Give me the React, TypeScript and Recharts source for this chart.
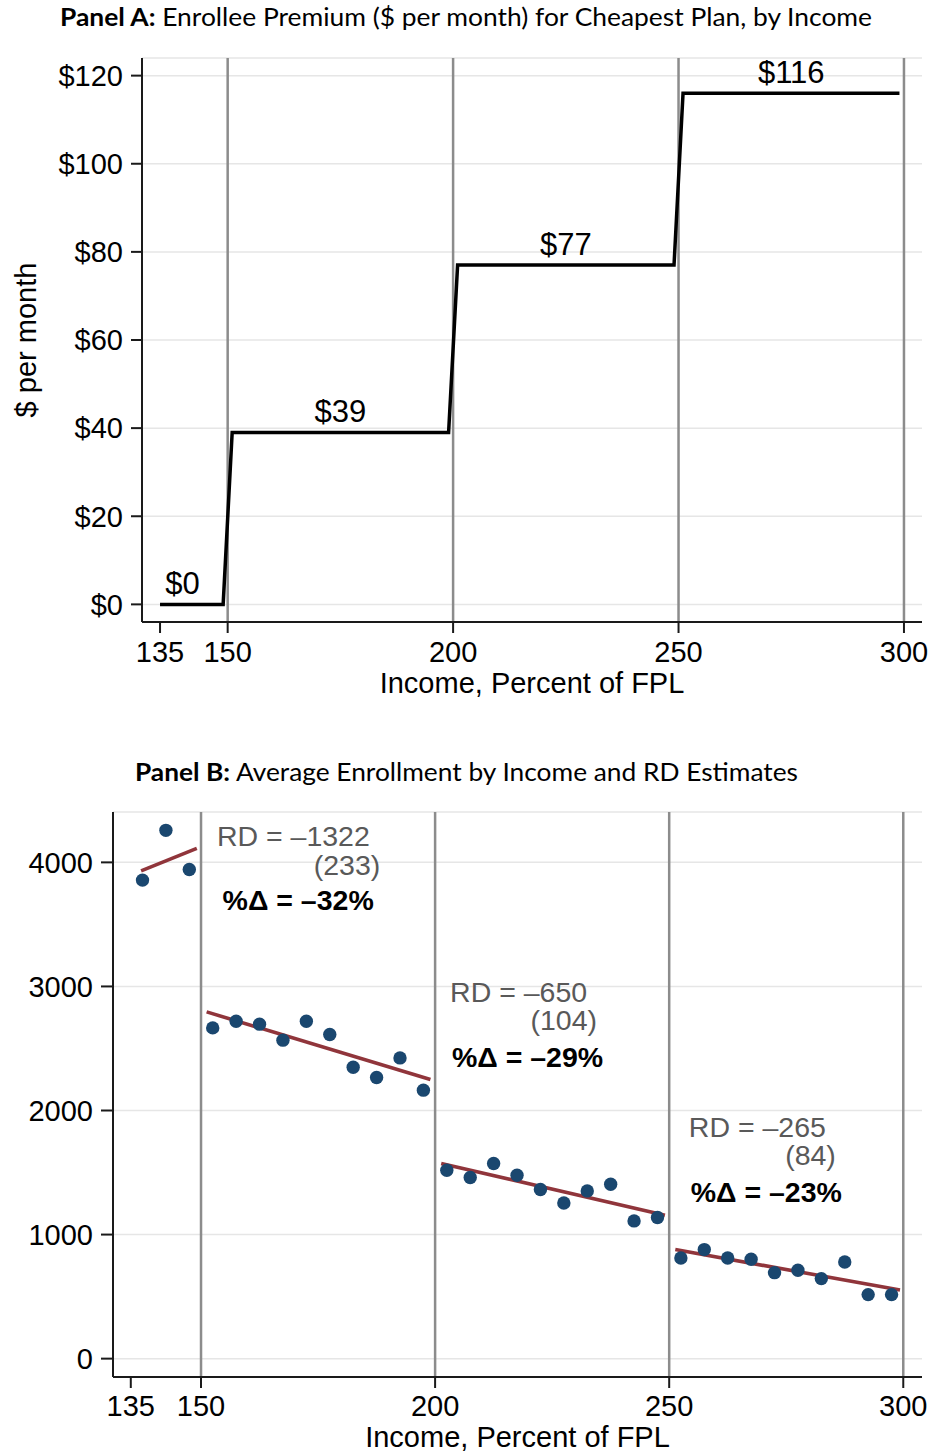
import React from 'react';
import {
  ComposedChart,
  Line,
  Scatter,
  XAxis,
  YAxis,
  CartesianGrid,
  ReferenceLine,
  Label,
} from 'recharts';

// ---------- shared ----------
const incomeTicks = [135, 150, 200, 250, 300];
const cutoffs = [150, 200, 250, 300];

// ---------- Panel A data ----------
const premiumIncome = [135, 149, 151, 199, 201, 249, 251, 299];
const premiumValue = [0, 0, 39, 39, 77, 77, 116, 116];
const premiumTicks = [0, 20, 40, 60, 80, 100, 120];
const premiumLabelText = ['$0', '$39', '$77', '$116'];
const premiumLabelIncome = [140, 175, 225, 275];
const premiumLabelLevel = [0, 39, 77, 116];

// ---------- Panel B data ----------
const binIncome = [
  137.5, 142.5, 147.5, 152.5, 157.5, 162.5, 167.5, 172.5, 177.5, 182.5, 187.5,
  192.5, 197.5, 202.5, 207.5, 212.5, 217.5, 222.5, 227.5, 232.5, 237.5, 242.5,
  247.5, 252.5, 257.5, 262.5, 267.5, 272.5, 277.5, 282.5, 287.5, 292.5, 297.5,
];
const enrollment = [
  3857, 4258, 3943, 2666, 2720, 2696, 2567, 2720, 2613, 2349, 2266,
  2424, 2164, 1519, 1460, 1573, 1478, 1363, 1255, 1352, 1406, 1110,
  1137, 811, 879, 811, 801, 693, 712, 645, 779, 516, 516,
];
const enrollTicks = [0, 1000, 2000, 3000, 4000];
const fitStartIncome = [137.2, 151.2, 201.3, 251.3];
const fitStartValue = [3931, 2795, 1573, 879];
const fitEndIncome = [149.1, 199.0, 249.1, 299.3];
const fitEndValue = [4113, 2250, 1156, 553];
const rdEstimate = ['RD = –1322', 'RD = –650', 'RD = –265'];
const rdSE = ['(233)', '(104)', '(84)'];
const rdPct = ['%Δ = –32%', '%Δ = –29%', '%Δ = –23%'];
// annotation anchors (data units)
const rdTextIncome = [153.4, 203.2, 254.2];
const rdTextLevel = [4212, 2956, 1868];
const seTextIncome = [188.3, 234.6, 285.6];
const seTextLevel = [3980, 2730, 1640];
const pctTextIncome = [154.6, 203.6, 254.6];
const pctTextLevel = [3696, 2432, 1344];

// ---------- derived tables ----------
const premiumData = premiumIncome.map((x, i) => ({ x, y: premiumValue[i] }));
const premiumLabels = premiumLabelText.map((t, i) => ({
  x: premiumLabelIncome[i],
  y: premiumLabelLevel[i],
  label: t,
}));
const enrollData = binIncome.map((x, i) => ({ x, y: enrollment[i] }));
const fitSegments = fitStartIncome.map((x, i) => [
  { x, y: fitStartValue[i] },
  { x: fitEndIncome[i], y: fitEndValue[i] },
]);
const rdData = rdEstimate.map((t, i) => ({ x: rdTextIncome[i], y: rdTextLevel[i], label: t }));
const seData = rdSE.map((t, i) => ({ x: seTextIncome[i], y: seTextLevel[i], label: t }));
const pctData = rdPct.map((t, i) => ({ x: pctTextIncome[i], y: pctTextLevel[i], label: t }));

const FONT = '"Liberation Sans", Arial, Helvetica, sans-serif';
const AXIS_COLOR = '#1a1a1a';
const CUT_COLOR = '#8c8c8c';
const GRID_COLOR = '#e6e6e6';
const DOT_COLOR = '#1a476f';
const FIT_COLOR = '#90353b';

const tickStyle = { fill: '#000', fontSize: 29, fontFamily: FONT };

const XTitle = (dy: number) => (props: any) => {
  const vb = props.viewBox || {};
  return (
    <text
      x={vb.x + vb.width / 2}
      y={vb.y + dy}
      textAnchor="middle"
      dominantBaseline="central"
      fontSize={29}
      fontFamily={FONT}
      fill="#000"
    >
      Income, Percent of FPL
    </text>
  );
};

const YTitleA = (props: any) => {
  const vb = props.viewBox || {};
  const cx = vb.x - 16;
  const cy = vb.y + vb.height / 2;
  return (
    <text
      x={cx}
      y={cy}
      transform={`rotate(-90 ${cx} ${cy})`}
      textAnchor="middle"
      dominantBaseline="central"
      fontSize={29}
      fontFamily={FONT}
      fill="#000"
    >
      $ per month
    </text>
  );
};

const textShape =
  (opts: { dy: number; size: number; anchor: string; weight?: string; color: string }) =>
  (p: any) => (
    <text
      x={p.cx}
      y={p.cy + opts.dy}
      textAnchor={opts.anchor as any}
      dominantBaseline="central"
      fontSize={opts.size}
      fontWeight={opts.weight || 'normal'}
      fontFamily={FONT}
      fill={opts.color}
    >
      {p.payload.label}
    </text>
  );

const dotShape = (p: any) => <circle cx={p.cx} cy={p.cy} r={6.7} fill={DOT_COLOR} />;

const PanelA = () => (
  <ComposedChart
    width={931}
    height={720}
    margin={{ top: 58, right: 9, bottom: 18, left: 42 }}
  >
    <CartesianGrid vertical={false} stroke={GRID_COLOR} strokeWidth={1.5} />
    <XAxis
      type="number"
      dataKey="x"
      domain={[131, 304]}
      ticks={incomeTicks}
      interval={0}
      allowDataOverflow
      height={80}
      tickSize={11}
      tickMargin={8}
      tick={tickStyle}
      axisLine={{ stroke: AXIS_COLOR, strokeWidth: 2 }}
      tickLine={{ stroke: AXIS_COLOR, strokeWidth: 2 }}
    >
      <Label content={XTitle(61)} />
    </XAxis>
    <YAxis
      type="number"
      dataKey="y"
      domain={[-4, 124]}
      ticks={premiumTicks}
      interval={0}
      allowDataOverflow
      width={100}
      tickSize={11}
      tickMargin={8}
      tick={tickStyle}
      tickFormatter={(v: number) => `$${v}`}
      axisLine={{ stroke: AXIS_COLOR, strokeWidth: 2 }}
      tickLine={{ stroke: AXIS_COLOR, strokeWidth: 2 }}
    >
      <Label content={YTitleA} />
    </YAxis>
    {cutoffs.map((c) => (
      <ReferenceLine key={c} x={c} stroke={CUT_COLOR} strokeWidth={2.5} />
    ))}
    <Line
      data={premiumData}
      dataKey="y"
      type="linear"
      stroke="#000"
      strokeWidth={3.5}
      dot={false}
      activeDot={false}
      isAnimationActive={false}
    />
    <Scatter
      data={premiumLabels}
      dataKey="y"
      isAnimationActive={false}
      shape={textShape({ dy: -21, size: 31, anchor: 'middle', color: '#000' })}
    />
  </ComposedChart>
);

const PanelB = () => (
  <ComposedChart
    width={931}
    height={734}
    margin={{ top: 92, right: 9, bottom: 7, left: 13 }}
  >
    <CartesianGrid vertical={false} stroke={GRID_COLOR} strokeWidth={1.5} />
    <XAxis
      type="number"
      dataKey="x"
      domain={[131.2, 304]}
      ticks={incomeTicks}
      interval={0}
      allowDataOverflow
      height={70}
      tickSize={11}
      tickMargin={7}
      tick={tickStyle}
      axisLine={{ stroke: AXIS_COLOR, strokeWidth: 2 }}
      tickLine={{ stroke: AXIS_COLOR, strokeWidth: 2 }}
    >
      <Label content={XTitle(60)} />
    </XAxis>
    <YAxis
      type="number"
      dataKey="y"
      domain={[-148, 4406]}
      ticks={enrollTicks}
      interval={0}
      allowDataOverflow
      width={100}
      tickSize={12}
      tickMargin={8}
      tick={tickStyle}
      axisLine={{ stroke: AXIS_COLOR, strokeWidth: 2 }}
      tickLine={{ stroke: AXIS_COLOR, strokeWidth: 2 }}
    />
    {cutoffs.map((c) => (
      <ReferenceLine key={c} x={c} stroke={CUT_COLOR} strokeWidth={2.5} />
    ))}
    <Scatter data={enrollData} dataKey="y" isAnimationActive={false} shape={dotShape} />
    {fitSegments.map((seg, i) => (
      <Line
        key={i}
        data={seg}
        dataKey="y"
        type="linear"
        stroke={FIT_COLOR}
        strokeWidth={3.6}
        dot={false}
        activeDot={false}
        isAnimationActive={false}
      />
    ))}
    <Scatter
      data={rdData}
      dataKey="y"
      isAnimationActive={false}
      shape={textShape({ dy: 0, size: 28.5, anchor: 'start', color: '#595959' })}
    />
    <Scatter
      data={seData}
      dataKey="y"
      isAnimationActive={false}
      shape={textShape({ dy: 0, size: 28.5, anchor: 'end', color: '#595959' })}
    />
    <Scatter
      data={pctData}
      dataKey="y"
      isAnimationActive={false}
      shape={textShape({ dy: 0, size: 28.5, anchor: 'start', weight: 'bold', color: '#000' })}
    />
  </ComposedChart>
);

const TITLE_FONT = 'Lato, "Open Sans", sans-serif';

export default function App() {
  return (
    <div
      style={{
        position: 'absolute',
        left: 0,
        top: 0,
        width: 931,
        height: 1454,
        background: '#fff',
        overflow: 'hidden',
      }}
    >
      <div style={{ position: 'absolute', left: 0, top: 0 }}>
        <PanelA />
      </div>
      <div style={{ position: 'absolute', left: 0, top: 720 }}>
        <PanelB />
      </div>
      <svg
        width={931}
        height={1454}
        style={{ position: 'absolute', left: 0, top: 0, pointerEvents: 'none' }}
      >
        <text
          x={60}
          y={26}
          fontSize={24.5}
          fontFamily={TITLE_FONT}
          fill="#000"
          textLength={812}
          lengthAdjust="spacingAndGlyphs"
        >
          <tspan fontWeight="bold">Panel A:</tspan>
          <tspan> Enrollee Premium ($ per month) for Cheapest Plan, by Income</tspan>
        </text>
        <text
          x={135}
          y={781}
          fontSize={24.5}
          fontFamily={TITLE_FONT}
          fill="#000"
          textLength={663}
          lengthAdjust="spacingAndGlyphs"
        >
          <tspan fontWeight="bold">Panel B:</tspan>
          <tspan> Average Enrollment by Income and RD Estimates</tspan>
        </text>
      </svg>
    </div>
  );
}
